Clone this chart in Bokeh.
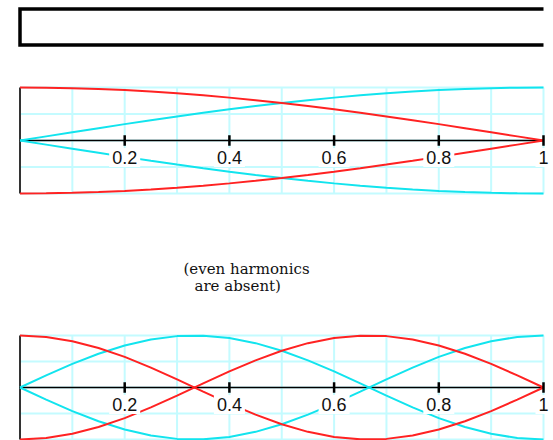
from bokeh.plotting import figure
from bokeh.layouts import column
from bokeh.models import Range1d, ColumnDataSource, Label
from bokeh.core.properties import value
from bokeh.embed import file_html
from bokeh.resources import INLINE

# ---- data ----
# position along the tube (fraction of its length)
x_pos = [0.00, 0.05, 0.10, 0.15, 0.20, 0.25, 0.30, 0.35, 0.40, 0.45, 0.50,
         0.55, 0.60, 0.65, 0.70, 0.75, 0.80, 0.85, 0.90, 0.95, 1.00]
# fundamental: red (pressure-like) and cyan (displacement-like) envelopes
fund_red = [1.000, 0.997, 0.988, 0.972, 0.951, 0.924, 0.891, 0.853, 0.809, 0.760, 0.707,
            0.649, 0.588, 0.522, 0.454, 0.383, 0.309, 0.233, 0.156, 0.078, 0.000]
fund_cyan = [0.000, 0.078, 0.156, 0.233, 0.309, 0.383, 0.454, 0.522, 0.588, 0.649, 0.707,
             0.760, 0.809, 0.853, 0.891, 0.924, 0.951, 0.972, 0.988, 0.997, 1.000]
# third harmonic
third_red = [1.000, 0.972, 0.891, 0.760, 0.588, 0.383, 0.156, -0.078, -0.309, -0.522, -0.707,
             -0.853, -0.951, -0.997, -0.988, -0.924, -0.809, -0.649, -0.454, -0.233, 0.000]
third_cyan = [0.000, 0.233, 0.454, 0.649, 0.809, 0.924, 0.988, 0.997, 0.951, 0.853, 0.707,
              0.522, 0.309, 0.078, -0.156, -0.383, -0.588, -0.760, -0.891, -0.972, -1.000]
tick_values = [0.2, 0.4, 0.6, 0.8, 1.0]
tick_labels = ["0.2", "0.4", "0.6", "0.8", "1"]
grid_x = [0.1, 0.2, 0.3, 0.4, 0.5, 0.6, 0.7, 0.8, 0.9, 1.0]
grid_y = [-1.0, -0.5, 0.0, 0.5, 1.0]
note_lines = ["(even harmonics", "are absent)"]

# ---- layout constants ----
W = 553
X0 = 19.5      # pixel of x = 0
XS = 523.5     # pixels per unit x
RED = "#ff2222"
CYAN = "#12e4ee"
GRID = "#c4fbff"


def base_fig(height, y_start, y_end):
    p = figure(width=W, height=height, output_backend="svg", toolbar_location=None,
               x_range=Range1d(-X0 / XS, (W - X0) / XS),
               y_range=Range1d(y_start, y_end),
               x_axis_type=None, y_axis_type=None, min_border=0)
    p.outline_line_color = None
    p.xgrid.visible = False
    p.ygrid.visible = False
    p.background_fill_color = "white"
    p.border_fill_color = "white"
    return p


def wave_panel(p, red, cyan):
    # grid
    p.segment(x0=grid_x, x1=grid_x, y0=[-1] * len(grid_x), y1=[1] * len(grid_x),
              line_color=GRID, line_width=2)
    p.segment(x0=[0] * len(grid_y), x1=[1] * len(grid_y), y0=grid_y, y1=grid_y,
              line_color=GRID, line_width=2)
    # left closed end
    p.segment(x0=[0], x1=[0], y0=[-1], y1=[1], line_color="#333333", line_width=2)
    # axis
    p.segment(x0=[0], x1=[1], y0=[0], y1=[0], line_color="black", line_width=1.5)
    # curves
    p.line(x_pos, cyan, line_color=CYAN, line_width=2)
    p.line(x_pos, [-v for v in cyan], line_color=CYAN, line_width=2)
    p.line(x_pos, red, line_color=RED, line_width=2)
    p.line(x_pos, [-v for v in red], line_color=RED, line_width=2)
    # ticks
    p.segment(x0=tick_values, x1=tick_values, y0=[-0.1] * len(tick_values),
              y1=[0.1] * len(tick_values), line_color="black", line_width=2.5)
    src = ColumnDataSource(dict(x=tick_values, y=[0] * len(tick_values), t=tick_labels))
    p.text(x="x", y="y", text="t", source=src, text_align="center",
           text_baseline="middle", y_offset=17, text_color="#111111",
           text_font=value("Liberation Sans"), text_font_size="18px",
           background_fill_color="white", padding=3)


# tube drawing
pt = base_fig(60, 0, 60)
pt.line([1, 0, 0, 1], [51.5, 51.5, 15.5, 15.5], line_color="black", line_width=3.5,
        line_join="miter")

# fundamental panel (pixels 60..320)
s1 = 53.0
p1 = base_fig(260, -(260 - 80) / s1, 80 / s1)
wave_panel(p1, fund_red, fund_cyan)
p1.add_layout(Label(x=183, y=52, x_units="screen", y_units="screen", text=note_lines[0],
                    text_font="DejaVu Serif", text_font_size="15px", text_baseline="alphabetic",
                    text_color="#111111"))
p1.add_layout(Label(x=194, y=35, x_units="screen", y_units="screen", text=note_lines[1],
                    text_font="DejaVu Serif", text_font_size="15px", text_baseline="alphabetic",
                    text_color="#111111"))

# third harmonic panel (pixels 320..440)
s2 = 52.0
p2 = base_fig(120, -(120 - 67) / s2, 67 / s2)
wave_panel(p2, third_red, third_cyan)

layout = column(pt, p1, p2, spacing=0)
open("out.html", "w").write(file_html(layout, INLINE))
